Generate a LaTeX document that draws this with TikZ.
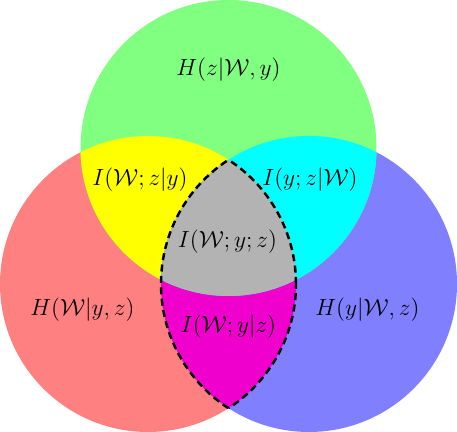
\documentclass[tikz,border=0pt]{standalone}
\usepackage{amsmath}
\usepackage{amssymb}
\usepackage{xcolor}

\definecolor{lensmagenta}{RGB}{240,0,204}
\definecolor{pureyellow}{RGB}{255,255,0}
\definecolor{purecyan}{RGB}{0,255,255}
\definecolor{pinkred}{RGB}{255,128,128}
\definecolor{paleblue}{RGB}{128,128,255}
\definecolor{palegreen}{RGB}{128,255,128}
\definecolor{midgray}{RGB}{179,179,179}
\def\circW{(2.96,2.96) circle (2.96cm)}
\def\circY{(6.18,2.96) circle (2.96cm)}
\def\circZ{(4.57,5.68) circle (2.96cm)}

\begin{document}
\begin{tikzpicture}[lbl/.style={font=\large,scale=1.11,transform shape},
  lens/.style={line width=1.4pt,dash pattern=on 4pt off 2.5pt}]
\useasboundingbox (0,0) rectangle (9.14,8.64);
\fill[pinkred] \circW;
\fill[paleblue] \circY;
\fill[palegreen] \circZ;
\begin{scope}
\clip \circW;
\fill[pureyellow] \circZ;
\fill[lensmagenta] \circY;
\end{scope}
\begin{scope}
\clip \circY;
\fill[purecyan] \circZ;
\end{scope}
\begin{scope}
\clip \circW;
\clip \circY;
\fill[midgray] \circZ;
\end{scope}
\begin{scope}
\clip \circW;
\draw[lens] \circY;
\end{scope}
\begin{scope}
\clip \circY;
\draw[lens] \circW;
\end{scope}
\node[lbl] (hz) at (4.57,7.24) {\(H(z|\mathcal{W},y)\)};
\node[lbl] (iwzy) at (2.80,5.04) {\(I(\mathcal{W};z|y)\)};
\node[lbl] (iyzw) at (6.20,5.04) {\(I(y;z|\mathcal{W})\)};
\node[lbl] (iwyz) at (4.55,3.80) {\(I(\mathcal{W};y;z)\)};
\node[lbl] (hw) at (1.65,2.44) {\(H(\mathcal{W}|y,z)\)};
\node[lbl] (iwyglz) at (4.57,2.10) {\(I(\mathcal{W};y|z)\)};
\node[lbl] (hy) at (7.35,2.44) {\(H(y|\mathcal{W},z)\)};
\end{tikzpicture}
\end{document}
